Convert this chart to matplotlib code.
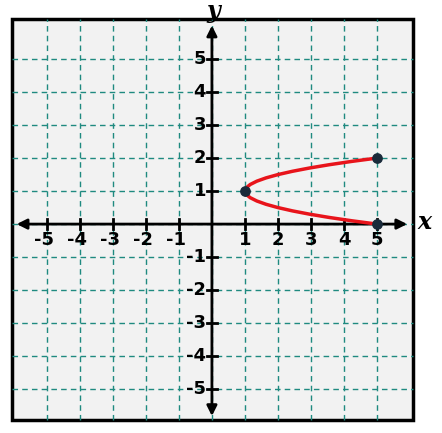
import matplotlib.pyplot as plt
import matplotlib.patches as patches

ticks = [-5, -4, -3, -2, -1, 1, 2, 3, 4, 5]
curve_y = [0, 0.1, 0.2, 0.3, 0.4, 0.5, 0.6, 0.7, 0.8, 0.9, 1.0,
           1.1, 1.2, 1.3, 1.4, 1.5, 1.6, 1.7, 1.8, 1.9, 2.0]
curve_x = [5.0, 4.24, 3.56, 2.96, 2.44, 2.0, 1.64, 1.36, 1.16, 1.04, 1.0,
           1.04, 1.16, 1.36, 1.64, 2.0, 2.44, 2.96, 3.56, 4.24, 5.0]
dots_x = [1, 5, 5]
dots_y = [1, 0, 2]

fig = plt.figure(figsize=(4.42, 4.33), dpi=100)
ax = fig.add_axes([0, 0, 1, 1])
ax.set_xlim(-6.42, 6.97)
ax.set_ylim(-6.33, 6.79)
ax.axis('off')

# background frame
ax.add_patch(patches.Rectangle((-6.05, -5.95), 12.15, 12.15, facecolor='#f2f2f2',
                               edgecolor='black', lw=2.5, zorder=0))

# dashed grid
for v in range(-5, 6):
    ax.plot([v, v], [-5.95, 6.2], color='#1f8a80', lw=1, ls=(0, (4, 3)), zorder=1)
    ax.plot([-6.05, 6.1], [v, v], color='#1f8a80', lw=1, ls=(0, (4, 3)), zorder=1)

# axes with arrows
ax.annotate('', xy=(6.0, 0), xytext=(-6.0, 0),
            arrowprops=dict(arrowstyle='<|-|>', color='black', lw=2, mutation_scale=15), zorder=3)
ax.annotate('', xy=(0, 6.1), xytext=(0, -5.9),
            arrowprops=dict(arrowstyle='<|-|>', color='black', lw=2, mutation_scale=15), zorder=3)

for t in ticks:
    ax.plot([t, t], [-0.15, 0.15], color='black', lw=2, zorder=3)
    ax.plot([-0.15, 0.15], [t, t], color='black', lw=2, zorder=3)
    ax.text(t - 0.1 if t < 0 else t, -0.2, str(t), ha='center', va='top',
            fontsize=13, fontweight='bold', zorder=4)
    ax.text(-0.18, t, str(t), ha='right', va='center',
            fontsize=13, fontweight='bold', zorder=4)

ax.text(6.45, 0.05, 'x', fontsize=17, fontstyle='italic', fontweight='bold',
        family='DejaVu Serif', ha='center', va='center')
ax.text(0.05, 6.45, 'y', fontsize=17, fontstyle='italic', fontweight='bold',
        family='DejaVu Serif', ha='center', va='center')

ax.plot(curve_x, curve_y, color='#e8141b', lw=2.5, zorder=5)
ax.scatter(dots_x, dots_y, s=45, color='#1a2a3a', zorder=6)

fig.savefig('out.png', dpi=100)
